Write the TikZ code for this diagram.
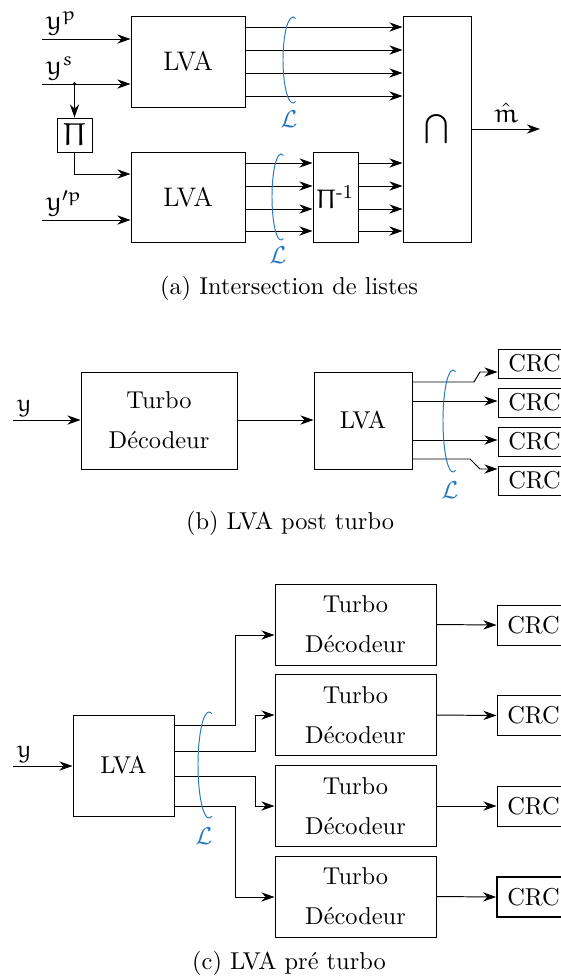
\documentclass[tikz,border=0pt]{standalone}
\usepackage{amsmath}
\usetikzlibrary{arrows.meta,positioning}
\DeclareMathAlphabet{\mathe}{U}{eur}{m}{n}
\definecolor{lblue}{RGB}{38,120,190}
\tikzset{
  blk/.style 2 args={draw, inner sep=0pt, align=center,
    minimum width=#1*0.41pt, minimum height=#2*0.41pt},
  sig/.style={-{Stealth[length=5.4pt, width=3.8pt]}},
  lbr/.style={lblue},
  big/.style={font=\fontsize{11}{13}\selectfont},
  huge/.style={font=\fontsize{13}{15}\selectfont}
}
\begin{document}
\begin{tikzpicture}[x=0.41pt, y=-0.41pt]
  \useasboundingbox (0,0) rectangle (561,978);
  % ---------- (a) Intersection de listes
  \node[blk={114}{91}, big] (lvaTop) at (188,61.5) {LVA};
  \node[blk={114}{90}, big] (lvaBot) at (188,197) {LVA};
  \node[blk={35}{34}, huge] (pi) at (74.5,135) {$\mathe{\Pi}$};
  \node[blk={45}{90}, big] (piinv) at (335.5,197) {$\mathe{\Pi}^{\text{-}1}$};
  \node[blk={68}{226}] (inter) at (437,129) {\large$\bigcap$};
  % inputs
  \coordinate (yp) at (42,39);
  \coordinate (ys) at (42,84);
  \coordinate (ypp) at (42,220);
  \node[big, above right, inner sep=1.5pt] at (yp) {$\mathe{y}^{\mathe{p}}$};
  \node[big, above right, inner sep=1.5pt] at (ys) {$\mathe{y}^{\mathe{s}}$};
  \node[big, above right, inner sep=1.5pt] at (ypp) {$\mathe{y}'^{\mathe{p}}$};
  \draw[sig] (yp) -- (yp -| lvaTop.west);
  \draw[sig] (ys) -- (ys -| lvaTop.west);
  \fill (ys -| pi.north) circle (0.8pt);
  \draw[sig] (ys -| pi.north) -- (pi.north);
  \draw[sig] (pi.south) |- (lvaBot.west |- 0,174);
  \draw[sig] (ypp) -- (ypp -| lvaBot.west);
  % lists
  \foreach \yy in {27,50,73,96}
    \draw[sig] (lvaTop.east |- 0,\yy) -- (inter.west |- 0,\yy);
  \foreach \yy in {163,186,209,231} {
    \draw[sig] (lvaBot.east |- 0,\yy) -- (piinv.west |- 0,\yy);
    \draw[sig] (piinv.east |- 0,\yy) -- (inter.west |- 0,\yy);
  }
  \coordinate (mhat) at (540,129);
  \draw[sig] (inter.east |- mhat) -- (mhat);
  \node[big, above] at (506,131) {$\hat{\mathe{m}}$};
  % brackets
  \draw[lbr] (293,60) ++(75:10 and 43) arc[start angle=75, end angle=285, x radius=10, y radius=43];
  \node[lblue] at (289,119) {$\mathcal{L}$};
  \draw[lbr] (281,197) ++(75:9 and 43) arc[start angle=75, end angle=285, x radius=9, y radius=43];
  \node[lblue] at (278,255) {$\mathcal{L}$};
  \node at (289,288) {(a) Intersection de listes};
  % ---------- (b) LVA post turbo
  \coordinate (yb) at (13,420);
  \node[above right, inner sep=1.5pt] at (yb) {$\mathe{y}$};
  \node[blk={156}{97}] (turboPost) at (159,420.5) {Turbo\\[4.4pt]Décodeur};
  \node[blk={98}{97}] (lvaPost) at (363,420.5) {LVA};
  \node[blk={73}{29}] (crcB1) at (534.5,363.5) {CRC};
  \node[blk={73}{29}] (crcB2) at (534.5,402.5) {CRC};
  \node[blk={73}{29}] (crcB3) at (534.5,441.5) {CRC};
  \node[blk={73}{29}] (crcB4) at (534.5,480.5) {CRC};
  \draw[sig] (yb) -- (yb -| turboPost.west);
  \draw[sig] (turboPost.east |- yb) -- (lvaPost.west |- yb);
  \draw[sig] (lvaPost.east |- 0,382) -- (474,382) -- (480,372) -- (crcB1.west |- 0,372);
  \draw[sig] (lvaPost.east |- 0,401) -- (crcB2.west |- 0,401);
  \draw[sig] (lvaPost.east |- 0,440) -- (crcB3.west |- 0,440);
  \draw[sig] (lvaPost.east |- 0,459) -- (470,459) -- (480,469) -- (crcB4.west |- 0,469);
  \draw[lbr] (453,421) ++(75:10 and 51) arc[start angle=75, end angle=285, x radius=10, y radius=51];
  \node[lblue] at (450,490) {$\mathcal{L}$};
  \node at (290,523) {(b) LVA post turbo};
  % ---------- (c) LVA pre turbo
  \coordinate (yc) at (13,766);
  \node[above right, inner sep=1.5pt] at (yc) {$\mathe{y}$};
  \node[blk={101}{101}] (lvaPre) at (123.5,765.5) {LVA};
  \node[blk={161}{81}] (tc1) at (355.5,624.5) {Turbo\\[4.4pt]Décodeur};
  \node[blk={161}{81}] (tc2) at (355.5,715) {Turbo\\[4.4pt]Décodeur};
  \node[blk={161}{81}] (tc3) at (355.5,806) {Turbo\\[4.4pt]Décodeur};
  \node[blk={161}{81}] (tc4) at (355.5,896.5) {Turbo\\[4.4pt]Décodeur};
  \node[blk={73}{40}] (cc1) at (533.5,625) {CRC};
  \node[blk={73}{40}] (cc2) at (533.5,715.5) {CRC};
  \node[blk={73}{40}] (cc3) at (533.5,806) {CRC};
  \node[blk={73}{40}, line width=0.7pt] (cc4) at (533.5,897) {CRC};
  \draw[sig] (yc) -- (yc -| lvaPre.west);
  \draw[sig] (lvaPre.east |- 0,725) -| (235,635) -- (tc1.west |- 0,635);
  \draw[sig] (lvaPre.east |- 0,751) -| (255,715) -- (tc2.west |- 0,715);
  \draw[sig] (lvaPre.east |- 0,776) -| (255,806) -- (tc3.west |- 0,806);
  \draw[sig] (lvaPre.east |- 0,806) -| (235,897) -- (tc4.west |- 0,897);
  \foreach \i in {1,...,4}
    \draw[sig] (tc\i.east) -- (cc\i.west);
  \draw[lbr] (209,765) ++(75:11 and 53) arc[start angle=75, end angle=285, x radius=11, y radius=53];
  \node[lblue] at (204,836) {$\mathcal{L}$};
  \node at (289,963) {(c) LVA pré turbo};
\end{tikzpicture}
\end{document}
